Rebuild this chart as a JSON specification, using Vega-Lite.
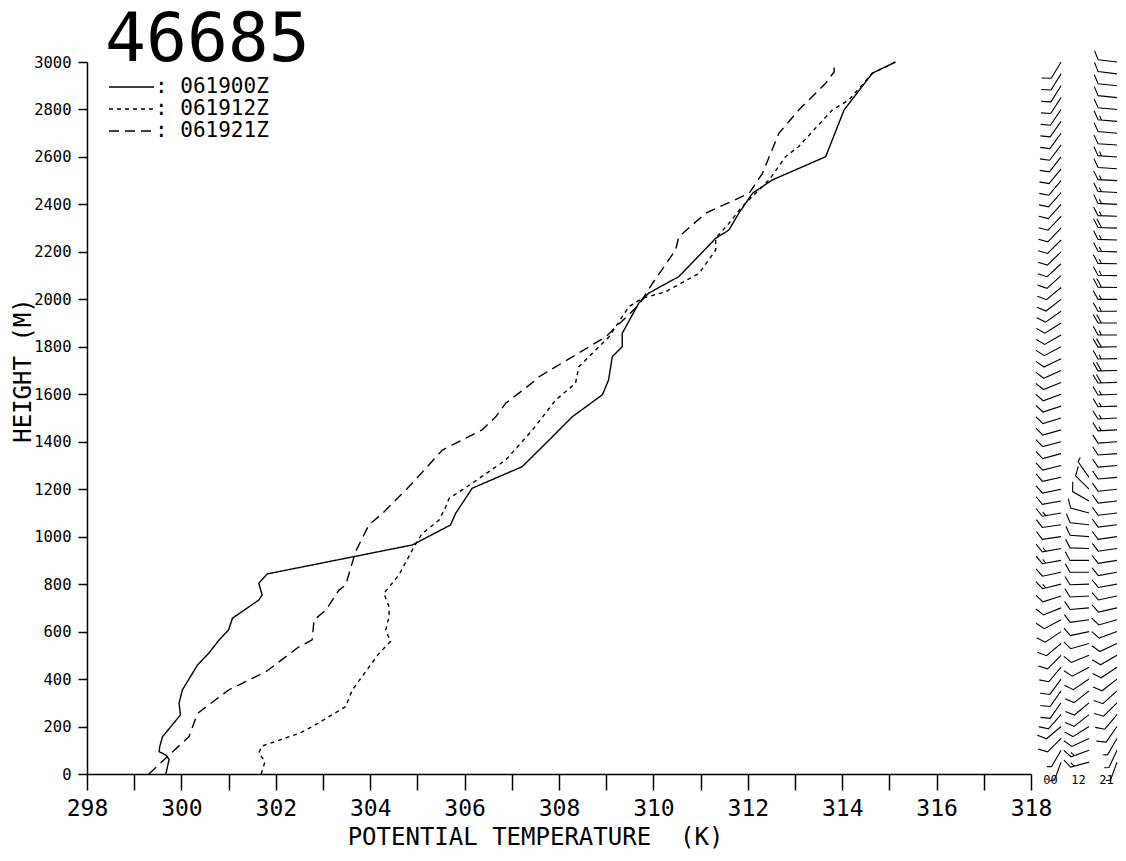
{
  "$schema": "https://vega.github.io/schema/vega-lite/v6.json",
  "padding": {"left": 11, "top": 7, "right": 0, "bottom": 0},
  "spacing": 0,
  "bounds": "flush",
  "background": "white",
  "config": {
    "view": {"stroke": null},
    "font": "DejaVu Sans Mono",
    "axis": {"grid": false, "domainColor": "black", "tickColor": "black", "labelColor": "black", "titleColor": "black", "titleFontWeight": "normal", "labelFont": "DejaVu Sans Mono", "titleFont": "DejaVu Sans Mono"},
    "legend": {"labelFont": "DejaVu Sans Mono"}
  },
  "datasets": {
    "profiles": [
      {"time": "061900Z", "theta": 299.67, "height": 0},
      {"time": "061900Z", "theta": 299.74, "height": 62},
      {"time": "061900Z", "theta": 299.67, "height": 80},
      {"time": "061900Z", "theta": 299.53, "height": 94},
      {"time": "061900Z", "theta": 299.54, "height": 115},
      {"time": "061900Z", "theta": 299.60, "height": 157},
      {"time": "061900Z", "theta": 299.98, "height": 249},
      {"time": "061900Z", "theta": 299.95, "height": 298},
      {"time": "061900Z", "theta": 300.02, "height": 354},
      {"time": "061900Z", "theta": 300.34, "height": 459},
      {"time": "061900Z", "theta": 300.58, "height": 509},
      {"time": "061900Z", "theta": 300.80, "height": 565},
      {"time": "061900Z", "theta": 301.00, "height": 607},
      {"time": "061900Z", "theta": 301.08, "height": 656},
      {"time": "061900Z", "theta": 301.64, "height": 733},
      {"time": "061900Z", "theta": 301.71, "height": 754},
      {"time": "061900Z", "theta": 301.64, "height": 804},
      {"time": "061900Z", "theta": 301.82, "height": 843},
      {"time": "061900Z", "theta": 304.89, "height": 965},
      {"time": "061900Z", "theta": 305.70, "height": 1049},
      {"time": "061900Z", "theta": 305.81, "height": 1098},
      {"time": "061900Z", "theta": 306.16, "height": 1204},
      {"time": "061900Z", "theta": 307.22, "height": 1295},
      {"time": "061900Z", "theta": 307.79, "height": 1407},
      {"time": "061900Z", "theta": 308.28, "height": 1505},
      {"time": "061900Z", "theta": 308.92, "height": 1598},
      {"time": "061900Z", "theta": 309.05, "height": 1660},
      {"time": "061900Z", "theta": 309.13, "height": 1759},
      {"time": "061900Z", "theta": 309.34, "height": 1800},
      {"time": "061900Z", "theta": 309.34, "height": 1857},
      {"time": "061900Z", "theta": 309.69, "height": 1984},
      {"time": "061900Z", "theta": 309.90, "height": 2026},
      {"time": "061900Z", "theta": 310.54, "height": 2096},
      {"time": "061900Z", "theta": 311.32, "height": 2257},
      {"time": "061900Z", "theta": 311.60, "height": 2292},
      {"time": "061900Z", "theta": 311.81, "height": 2363},
      {"time": "061900Z", "theta": 312.10, "height": 2447},
      {"time": "061900Z", "theta": 312.52, "height": 2503},
      {"time": "061900Z", "theta": 313.65, "height": 2601},
      {"time": "061900Z", "theta": 314.04, "height": 2798},
      {"time": "061900Z", "theta": 314.64, "height": 2953},
      {"time": "061900Z", "theta": 315.13, "height": 3000},
      {"time": "061912Z", "theta": 301.69, "height": 0},
      {"time": "061912Z", "theta": 301.77, "height": 52},
      {"time": "061912Z", "theta": 301.64, "height": 90},
      {"time": "061912Z", "theta": 301.71, "height": 118},
      {"time": "061912Z", "theta": 302.49, "height": 171},
      {"time": "061912Z", "theta": 302.77, "height": 199},
      {"time": "061912Z", "theta": 303.48, "height": 284},
      {"time": "061912Z", "theta": 303.62, "height": 354},
      {"time": "061912Z", "theta": 304.19, "height": 509},
      {"time": "061912Z", "theta": 304.43, "height": 558},
      {"time": "061912Z", "theta": 304.33, "height": 607},
      {"time": "061912Z", "theta": 304.40, "height": 663},
      {"time": "061912Z", "theta": 304.40, "height": 705},
      {"time": "061912Z", "theta": 304.29, "height": 761},
      {"time": "061912Z", "theta": 304.61, "height": 839},
      {"time": "061912Z", "theta": 304.93, "height": 958},
      {"time": "061912Z", "theta": 305.10, "height": 1013},
      {"time": "061912Z", "theta": 305.46, "height": 1070},
      {"time": "061912Z", "theta": 305.60, "height": 1126},
      {"time": "061912Z", "theta": 305.67, "height": 1161},
      {"time": "061912Z", "theta": 306.16, "height": 1225},
      {"time": "061912Z", "theta": 306.87, "height": 1323},
      {"time": "061912Z", "theta": 307.44, "height": 1450},
      {"time": "061912Z", "theta": 307.93, "height": 1576},
      {"time": "061912Z", "theta": 308.35, "height": 1646},
      {"time": "061912Z", "theta": 308.42, "height": 1716},
      {"time": "061912Z", "theta": 309.06, "height": 1842},
      {"time": "061912Z", "theta": 309.48, "height": 1969},
      {"time": "061912Z", "theta": 309.76, "height": 2004},
      {"time": "061912Z", "theta": 310.26, "height": 2032},
      {"time": "061912Z", "theta": 310.97, "height": 2110},
      {"time": "061912Z", "theta": 311.32, "height": 2208},
      {"time": "061912Z", "theta": 311.32, "height": 2257},
      {"time": "061912Z", "theta": 311.60, "height": 2320},
      {"time": "061912Z", "theta": 311.88, "height": 2391},
      {"time": "061912Z", "theta": 312.45, "height": 2503},
      {"time": "061912Z", "theta": 312.80, "height": 2601},
      {"time": "061912Z", "theta": 313.08, "height": 2644},
      {"time": "061912Z", "theta": 313.79, "height": 2798},
      {"time": "061912Z", "theta": 314.14, "height": 2840},
      {"time": "061912Z", "theta": 314.64, "height": 2953},
      {"time": "061912Z", "theta": 315.13, "height": 3000},
      {"time": "061921Z", "theta": 299.31, "height": 0},
      {"time": "061921Z", "theta": 299.74, "height": 80},
      {"time": "061921Z", "theta": 300.16, "height": 157},
      {"time": "061921Z", "theta": 300.34, "height": 255},
      {"time": "061921Z", "theta": 301.00, "height": 354},
      {"time": "061921Z", "theta": 301.79, "height": 431},
      {"time": "061921Z", "theta": 302.49, "height": 536},
      {"time": "061921Z", "theta": 302.77, "height": 565},
      {"time": "061921Z", "theta": 302.81, "height": 649},
      {"time": "061921Z", "theta": 303.06, "height": 691},
      {"time": "061921Z", "theta": 303.34, "height": 775},
      {"time": "061921Z", "theta": 303.48, "height": 796},
      {"time": "061921Z", "theta": 303.69, "height": 937},
      {"time": "061921Z", "theta": 303.97, "height": 1049},
      {"time": "061921Z", "theta": 304.26, "height": 1098},
      {"time": "061921Z", "theta": 304.82, "height": 1210},
      {"time": "061921Z", "theta": 305.53, "height": 1365},
      {"time": "061921Z", "theta": 306.37, "height": 1450},
      {"time": "061921Z", "theta": 306.66, "height": 1505},
      {"time": "061921Z", "theta": 306.87, "height": 1562},
      {"time": "061921Z", "theta": 307.51, "height": 1660},
      {"time": "061921Z", "theta": 307.58, "height": 1674},
      {"time": "061921Z", "theta": 308.99, "height": 1842},
      {"time": "061921Z", "theta": 309.69, "height": 1976},
      {"time": "061921Z", "theta": 309.98, "height": 2067},
      {"time": "061921Z", "theta": 310.47, "height": 2208},
      {"time": "061921Z", "theta": 310.54, "height": 2264},
      {"time": "061921Z", "theta": 311.11, "height": 2363},
      {"time": "061921Z", "theta": 312.03, "height": 2447},
      {"time": "061921Z", "theta": 312.31, "height": 2531},
      {"time": "061921Z", "theta": 312.66, "height": 2700},
      {"time": "061921Z", "theta": 313.08, "height": 2798},
      {"time": "061921Z", "theta": 313.65, "height": 2910},
      {"time": "061921Z", "theta": 313.83, "height": 2959},
      {"time": "061921Z", "theta": 313.83, "height": 2995}
    ],
    "winds": [
      {"t":"00","h":50,"d":200,"s":"5"},{"t":"00","h":100,"d":210,"s":"5"},{"t":"00","h":150,"d":225,"s":"10"},{"t":"00","h":200,"d":230,"s":"10"},
      {"t":"00","h":250,"d":222,"s":"10"},{"t":"00","h":300,"d":215,"s":"10"},{"t":"00","h":350,"d":215,"s":"10"},{"t":"00","h":400,"d":216,"s":"10"},
      {"t":"00","h":450,"d":220,"s":"10"},{"t":"00","h":500,"d":225,"s":"10"},{"t":"00","h":550,"d":230,"s":"10"},{"t":"00","h":600,"d":236,"s":"10"},
      {"t":"00","h":650,"d":242,"s":"10"},{"t":"00","h":700,"d":248,"s":"10"},{"t":"00","h":750,"d":252,"s":"10"},{"t":"00","h":800,"d":256,"s":"15"},
      {"t":"00","h":850,"d":258,"s":"10"},{"t":"00","h":900,"d":260,"s":"15"},{"t":"00","h":950,"d":260,"s":"15"},{"t":"00","h":1000,"d":262,"s":"10"},
      {"t":"00","h":1050,"d":262,"s":"10"},{"t":"00","h":1100,"d":260,"s":"15"},{"t":"00","h":1150,"d":260,"s":"10"},{"t":"00","h":1200,"d":258,"s":"10"},
      {"t":"00","h":1250,"d":258,"s":"10"},{"t":"00","h":1300,"d":256,"s":"10"},{"t":"00","h":1350,"d":255,"s":"10"},{"t":"00","h":1400,"d":255,"s":"10"},
      {"t":"00","h":1450,"d":254,"s":"10"},{"t":"00","h":1500,"d":253,"s":"10"},{"t":"00","h":1550,"d":252,"s":"10"},{"t":"00","h":1600,"d":250,"s":"10"},
      {"t":"00","h":1650,"d":248,"s":"10"},{"t":"00","h":1700,"d":246,"s":"10"},{"t":"00","h":1750,"d":244,"s":"10"},{"t":"00","h":1800,"d":242,"s":"10"},
      {"t":"00","h":1850,"d":240,"s":"10"},{"t":"00","h":1900,"d":238,"s":"10"},{"t":"00","h":1950,"d":235,"s":"10"},{"t":"00","h":2000,"d":232,"s":"10"},
      {"t":"00","h":2050,"d":230,"s":"10"},{"t":"00","h":2100,"d":228,"s":"10"},{"t":"00","h":2150,"d":227,"s":"10"},{"t":"00","h":2200,"d":226,"s":"10"},
      {"t":"00","h":2250,"d":225,"s":"10"},{"t":"00","h":2300,"d":224,"s":"10"},{"t":"00","h":2350,"d":223,"s":"10"},{"t":"00","h":2400,"d":222,"s":"10"},
      {"t":"00","h":2450,"d":221,"s":"10"},{"t":"00","h":2500,"d":220,"s":"10"},{"t":"00","h":2550,"d":219,"s":"10"},{"t":"00","h":2600,"d":218,"s":"10"},
      {"t":"00","h":2650,"d":217,"s":"10"},{"t":"00","h":2700,"d":216,"s":"10"},{"t":"00","h":2750,"d":215,"s":"10"},{"t":"00","h":2800,"d":214,"s":"10"},
      {"t":"00","h":2850,"d":213,"s":"10"},{"t":"00","h":2900,"d":212,"s":"10"},{"t":"00","h":2950,"d":212,"s":"10"},{"t":"00","h":3000,"d":211,"s":"10"},
      {"t":"12","h":50,"d":255,"s":"15"},{"t":"12","h":100,"d":250,"s":"15"},{"t":"12","h":150,"d":245,"s":"10"},{"t":"12","h":200,"d":238,"s":"10"},
      {"t":"12","h":250,"d":232,"s":"10"},{"t":"12","h":300,"d":230,"s":"10"},{"t":"12","h":350,"d":232,"s":"10"},{"t":"12","h":400,"d":236,"s":"10"},
      {"t":"12","h":450,"d":242,"s":"10"},{"t":"12","h":500,"d":248,"s":"10"},{"t":"12","h":550,"d":254,"s":"10"},{"t":"12","h":600,"d":258,"s":"10"},
      {"t":"12","h":650,"d":262,"s":"10"},{"t":"12","h":700,"d":265,"s":"10"},{"t":"12","h":750,"d":267,"s":"10"},{"t":"12","h":800,"d":268,"s":"10"},
      {"t":"12","h":850,"d":270,"s":"10"},{"t":"12","h":900,"d":270,"s":"10"},{"t":"12","h":950,"d":272,"s":"10"},{"t":"12","h":1000,"d":274,"s":"10"},
      {"t":"12","h":1050,"d":276,"s":"10"},{"t":"12","h":1100,"d":285,"s":"10"},{"t":"12","h":1150,"d":300,"s":"10"},{"t":"12","h":1200,"d":315,"s":"10"},
      {"t":"12","h":1250,"d":325,"s":"5"},
      {"t":"21","h":50,"d":200,"s":"5"},{"t":"21","h":100,"d":205,"s":"5"},{"t":"21","h":150,"d":210,"s":"5"},{"t":"21","h":200,"d":215,"s":"10"},
      {"t":"21","h":250,"d":220,"s":"10"},{"t":"21","h":300,"d":225,"s":"10"},{"t":"21","h":350,"d":228,"s":"10"},{"t":"21","h":400,"d":232,"s":"10"},
      {"t":"21","h":450,"d":236,"s":"10"},{"t":"21","h":500,"d":240,"s":"10"},{"t":"21","h":550,"d":245,"s":"10"},{"t":"21","h":600,"d":250,"s":"10"},
      {"t":"21","h":650,"d":254,"s":"10"},{"t":"21","h":700,"d":257,"s":"10"},{"t":"21","h":750,"d":258,"s":"10"},{"t":"21","h":800,"d":260,"s":"10"},
      {"t":"21","h":850,"d":260,"s":"10"},{"t":"21","h":900,"d":261,"s":"10"},{"t":"21","h":950,"d":262,"s":"10"},{"t":"21","h":1000,"d":262,"s":"10"},
      {"t":"21","h":1050,"d":263,"s":"10"},{"t":"21","h":1100,"d":263,"s":"10"},{"t":"21","h":1150,"d":264,"s":"10"},{"t":"21","h":1200,"d":264,"s":"10"},
      {"t":"21","h":1250,"d":265,"s":"10"},{"t":"21","h":1300,"d":265,"s":"10"},{"t":"21","h":1350,"d":266,"s":"10"},{"t":"21","h":1400,"d":266,"s":"10"},
      {"t":"21","h":1450,"d":267,"s":"15"},{"t":"21","h":1500,"d":267,"s":"15"},{"t":"21","h":1550,"d":268,"s":"15"},{"t":"21","h":1600,"d":268,"s":"15"},
      {"t":"21","h":1650,"d":268,"s":"20"},{"t":"21","h":1700,"d":269,"s":"20"},{"t":"21","h":1750,"d":269,"s":"15"},{"t":"21","h":1800,"d":269,"s":"20"},
      {"t":"21","h":1850,"d":270,"s":"15"},{"t":"21","h":1900,"d":270,"s":"20"},{"t":"21","h":1950,"d":270,"s":"15"},{"t":"21","h":2000,"d":270,"s":"15"},
      {"t":"21","h":2050,"d":271,"s":"20"},{"t":"21","h":2100,"d":271,"s":"15"},{"t":"21","h":2150,"d":271,"s":"15"},{"t":"21","h":2200,"d":272,"s":"15"},
      {"t":"21","h":2250,"d":272,"s":"15"},{"t":"21","h":2300,"d":272,"s":"20"},{"t":"21","h":2350,"d":272,"s":"15"},{"t":"21","h":2400,"d":273,"s":"15"},
      {"t":"21","h":2450,"d":273,"s":"15"},{"t":"21","h":2500,"d":273,"s":"15"},{"t":"21","h":2550,"d":274,"s":"10"},{"t":"21","h":2600,"d":274,"s":"15"},
      {"t":"21","h":2650,"d":274,"s":"10"},{"t":"21","h":2700,"d":275,"s":"10"},{"t":"21","h":2750,"d":275,"s":"15"},{"t":"21","h":2800,"d":275,"s":"10"},
      {"t":"21","h":2850,"d":276,"s":"10"},{"t":"21","h":2900,"d":276,"s":"10"},{"t":"21","h":2950,"d":277,"s":"10"},{"t":"21","h":3000,"d":277,"s":"10"}
    ]
  },
  "hconcat": [
    {
      "width": 944,
      "height": 712,
      "title": {"text": "46685", "fontSize": 68, "fontWeight": "normal", "font": "DejaVu Sans Mono", "anchor": "start", "frame": "group", "dx": 18, "offset": -74, "baseline": "alphabetic", "color": "black"},
      "data": {"name": "profiles"},
      "mark": {"type": "line", "color": "black", "strokeWidth": 1.4},
      "encoding": {
        "x": {
          "field": "theta", "type": "quantitative",
          "scale": {"domain": [298, 318], "nice": false, "zero": false},
          "axis": {
            "values": [298,299,300,301,302,303,304,305,306,307,308,309,310,311,312,313,314,315,316,317,318],
            "labelExpr": "datum.value % 2 === 0 ? datum.label : ''",
            "tickSize": 16, "tickWidth": 1.5, "domainWidth": 1.5,
            "labelPadding": 7, "labelFontSize": 23, "labelFlush": false, "labelOverlap": false,
            "title": "POTENTIAL TEMPERATURE\u00a0\u00a0(K)", "titleFontSize": 24, "titlePadding": 5,
            "titleX": 448, "titleAlign": "center"
          }
        },
        "y": {
          "field": "height", "type": "quantitative",
          "scale": {"domain": [0, 3000], "nice": false},
          "axis": {
            "values": [0,200,400,600,800,1000,1200,1400,1600,1800,2000,2200,2400,2600,2800,3000],
            "format": "d",
            "tickSize": 9, "tickWidth": 1.5, "domainWidth": 1.5,
            "labelPadding": 7, "labelFontSize": 15.5, "labelFlush": false, "labelOverlap": false,
            "title": "HEIGHT (M)", "titleFontSize": 24, "titlePadding": -2, "titleY": 308
          }
        },
        "strokeDash": {
          "field": "time", "type": "nominal",
          "scale": {"domain": ["061900Z", "061912Z", "061921Z"], "range": [[1, 0], [4, 4], [10, 6]]},
          "legend": {
            "title": null, "orient": "none", "legendX": 34, "legendY": 14.5, "padding": 0,
            "symbolType": "M-2.5,0L2.5,0", "symbolSize": 324, "symbolStrokeWidth": 1.5, "symbolStrokeColor": "black",
            "labelFontSize": 21, "labelColor": "black", "labelOffset": 13, "rowPadding": 0,
            "labelExpr": "': ' + datum.label"
          }
        },
        "order": {"field": "height", "type": "quantitative"}
      }
    },
    {
      "width": 94,
      "height": 712,
      "data": {"name": "winds"},
      "mark": {"type": "point", "filled": false, "stroke": "black", "strokeWidth": 1.1, "size": 1444, "opacity": 1},
      "encoding": {
        "x": {
          "field": "t", "type": "nominal",
          "scale": {"type": "point", "domain": ["00", "12", "21"], "padding": 0.68, "align": 0.79},
          "axis": {"title": null, "domain": false, "ticks": false, "labelAngle": 0, "labelFontSize": 12, "labelPadding": 0, "labelOffset": -11}
        },
        "y": {"field": "h", "type": "quantitative", "scale": {"domain": [0, 3000], "nice": false}, "axis": null},
        "angle": {"field": "d", "type": "quantitative", "scale": null},
        "shape": {
          "field": "s", "type": "nominal",
          "scale": {"domain": ["5", "10", "15", "20"], "range": ["M0,0L0,-1L0.22,-1.12", "M0,0L0,-1L0.45,-1.25", "M0,0L0,-1L0.45,-1.25M0,-0.82L0.22,-0.94", "M0,0L0,-1L0.45,-1.25M0,-0.82L0.45,-1.07"]},
          "legend": null
        }
      }
    }
  ]
}
